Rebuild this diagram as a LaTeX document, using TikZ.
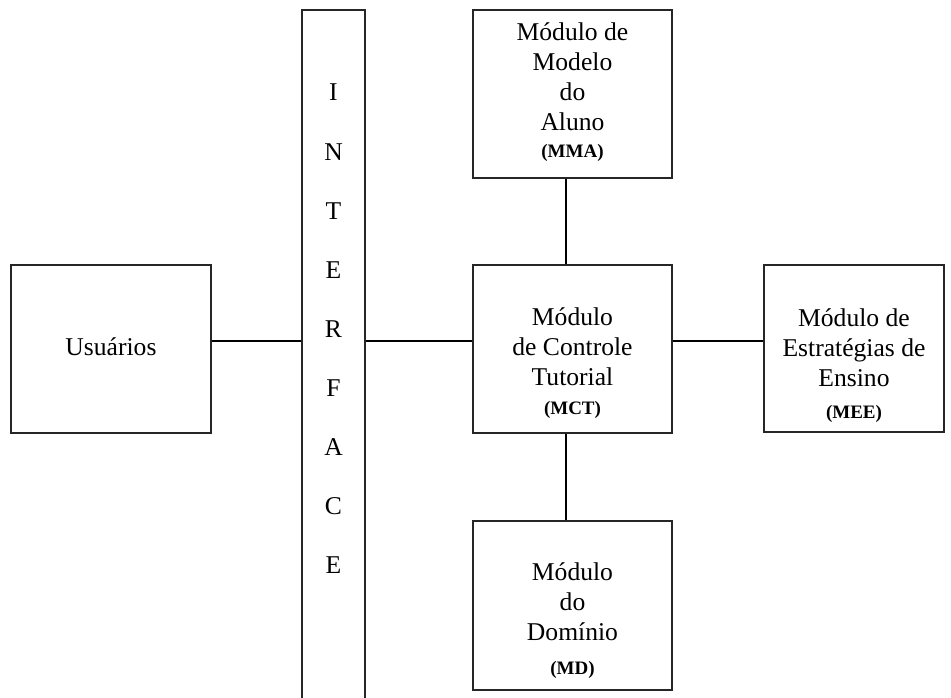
\documentclass[tikz,border=0pt]{standalone}
\usepackage{fontspec}
\setmainfont{Liberation Serif}
\newcommand\mainsz{\fontsize{25.6}{30}\selectfont}
\newcommand\tagsz{\fontsize{19}{22}\selectfont\bfseries}
\begin{document}
\begin{tikzpicture}[x=1pt,y=-1pt,
  box/.style={draw=black!85, line width=1.5pt, inner sep=0pt},
  txt/.style={align=center, font=\mainsz, inner sep=0pt},
  link/.style={draw=black, line width=1.5pt}]
\useasboundingbox (0,0) rectangle (951,697);

% boxes
\node[box, minimum width=200pt, minimum height=168pt] (usr) at (111,349) {};
\node[box, minimum width=63pt, minimum height=700pt] (iface) at (333.5,360) {};
\node[box, minimum width=199pt, minimum height=168pt] (mma) at (572.5,94) {};
\node[box, minimum width=199pt, minimum height=168pt] (mct) at (572.5,349) {};
\node[box, minimum width=180pt, minimum height=167pt] (mee) at (854,348.5) {};
\node[box, minimum width=199pt, minimum height=169pt] (md) at (572.5,605.5) {};

% labels
\node[txt] (usrtxt) at (111,347) {Usuários};
\node[txt, font={\fontsize{25.6}{59.1}\selectfont}] (ifacetxt) at (333.5,329)
  {I\\N\\T\\E\\R\\F\\A\\C\\E};
\node[txt] (mmatxt) at (572.5,92) {Módulo de\\Modelo\\do\\Aluno\\[-3pt]{\tagsz (MMA)}};
\node[txt] (mcttxt) at (572.5,363) {Módulo\\de Controle\\Tutorial\\[-1pt]{\tagsz (MCT)}};
\node[txt] (meetxt) at (854,366) {Módulo de\\Estratégias de\\Ensino\\[2pt]{\tagsz (MEE)}};
\node[txt] (mdtxt) at (572.5,621) {Módulo\\do\\Domínio\\[4pt]{\tagsz (MD)}};

% connectors
\coordinate (hub) at (0,341);
\coordinate (spine) at (566,0);
\draw[link] (usr.east |- hub) -- (iface.west |- hub);
\draw[link] (iface.east |- hub) -- (mct.west |- hub);
\draw[link] (mct.east |- hub) -- (mee.west |- hub);
\draw[link] (mma.south -| spine) -- (mct.north -| spine);
\draw[link] (mct.south -| spine) -- (md.north -| spine);
\end{tikzpicture}
\end{document}
